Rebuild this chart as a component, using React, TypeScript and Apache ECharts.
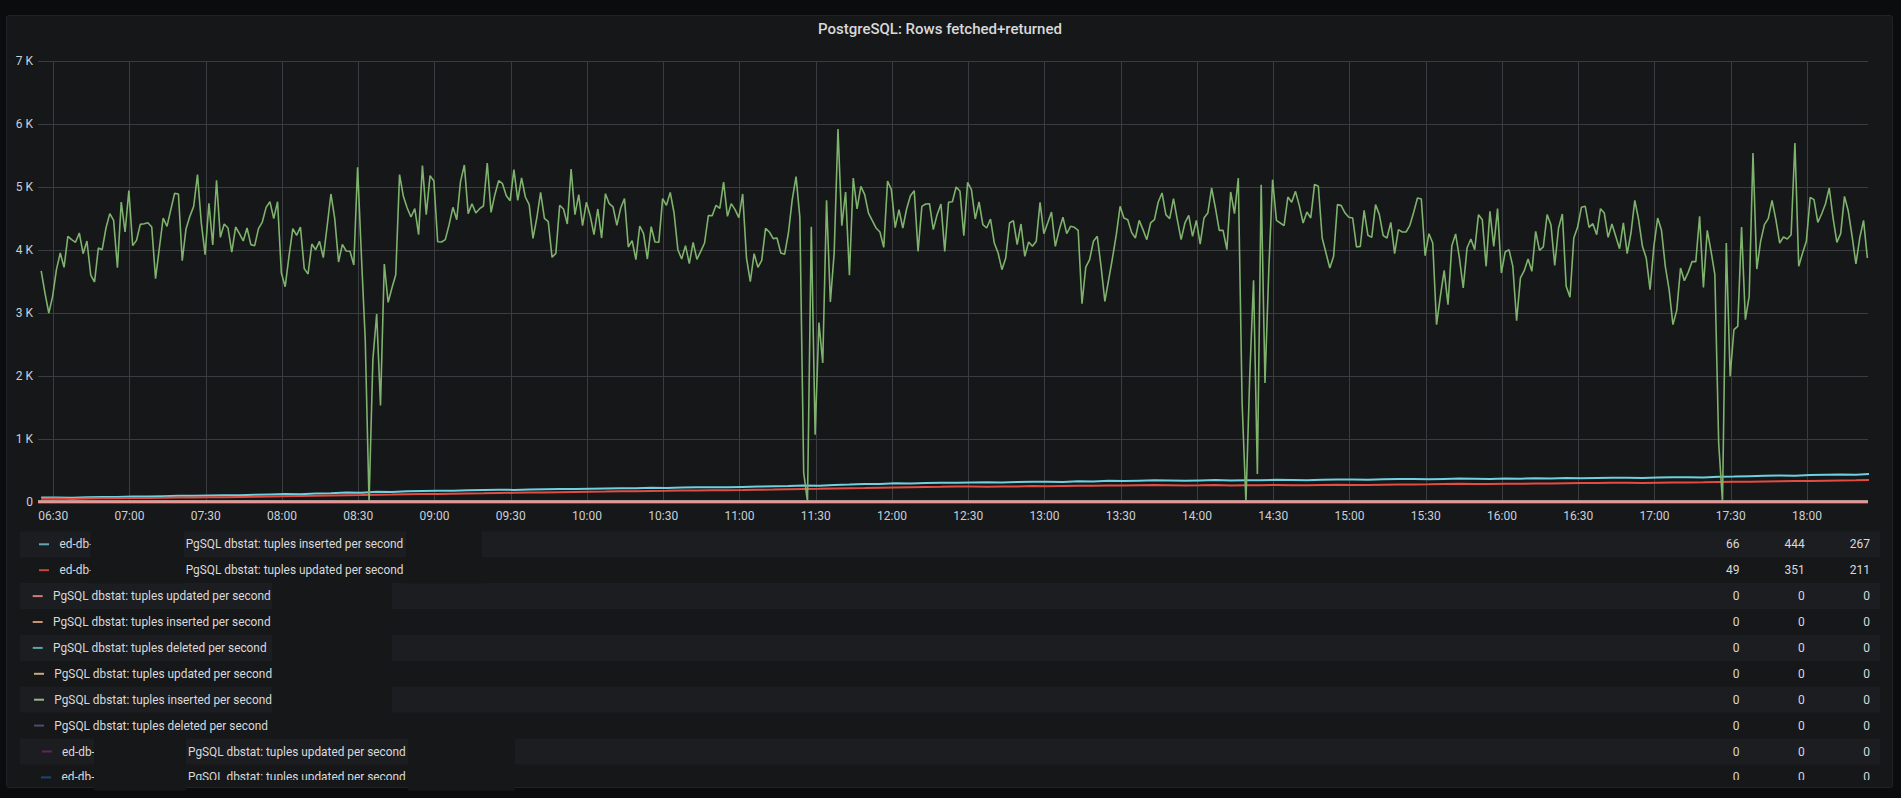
import React, { useEffect, useRef } from "react";
import * as echarts from "echarts";

// ---------- data ----------
const TITLE = "PostgreSQL: Rows fetched+returned";

// time is expressed in minutes since midnight
// main (green) series: one sample every 1.5 min starting 06:25:15
const GREEN_START = 6 * 60 + 25.25;
const GREEN_STEP = 1.5;
const greenValues = [
  3667, 3317, 3000, 3265, 3688, 3952, 3725, 4217, 4164, 4122,
  4270, 3942, 4143, 3603, 3492, 4032, 4005, 4349, 4577, 4471,
  3720, 4762, 4286, 4942, 4069, 4153, 4407, 4418, 4434, 4365,
  3545, 4032, 4508, 4376, 4640, 4899, 4889, 3831, 4339, 4534,
  4693, 5196, 4429, 3926, 4741, 4079, 5106, 4201, 4413, 4349,
  3968, 4365, 4259, 4143, 4349, 4085, 4069, 4339, 4444, 4677,
  4767, 4497, 4767, 3635, 3418, 3899, 4339, 4233, 4365, 3704,
  3619, 4095, 4005, 4138, 3878, 4376, 4889, 4497, 3810, 4090,
  3984, 3979, 3762, 5312, 3899, 2577, 0, 2259, 2984, 1534,
  3778, 3169, 3397, 3608, 5196, 4852, 4667, 4524, 4656, 4243,
  5339, 4561, 5180, 5095, 4132, 4127, 4164, 4402, 4677, 4481,
  5090, 5349, 4577, 4735, 4587, 4656, 4698, 5381, 4598, 4878,
  5100, 5053, 4862, 4783, 5275, 4788, 5143, 4841, 4720, 4185,
  4508, 4915, 4503, 4450, 3884, 3947, 4709, 4651, 4413, 5286,
  4561, 4878, 4386, 4757, 4545, 4243, 4651, 4190, 4894, 4735,
  4683, 4392, 4667, 4815, 4048, 4148, 3847, 4381, 4259, 3857,
  4370, 4127, 4122, 4815, 4709, 4915, 4587, 4005, 3857, 4069,
  3783, 4122, 3852, 3979, 4111, 4545, 4545, 4709, 4661, 5079,
  4534, 4735, 4640, 4513, 4889, 3873, 3497, 3942, 3725, 3836,
  4344, 4286, 4180, 4190, 3952, 3931, 4270, 4799, 5164, 4519,
  471, 0, 4370, 1069, 2847, 2206, 4788, 3175, 3952, 5921,
  4386, 4921, 3598, 5143, 4651, 5011, 4878, 4587, 4466, 4349,
  4286, 4042, 5095, 4958, 4354, 4640, 4349, 4651, 4862, 4942,
  3979, 4693, 4730, 4735, 4323, 4561, 4730, 3979, 4757, 4767,
  5000, 4931, 4228, 5074, 4958, 4492, 4762, 4402, 4349, 4492,
  4111, 3952, 3688, 3873, 4429, 4466, 4085, 4413, 3899, 4127,
  4058, 4138, 4757, 4259, 4429, 4603, 4058, 4312, 4519, 4259,
  4376, 4360, 4312, 3148, 3730, 3847, 4138, 4217, 3741, 3185,
  3529, 3873, 4243, 4693, 4508, 4481, 4280, 4190, 4471, 4323,
  4164, 4429, 4481, 4762, 4905, 4561, 4497, 4815, 4481, 4164,
  4429, 4550, 4217, 4471, 4095, 4508, 4587, 4984, 4667, 4312,
  4312, 4005, 4921, 4577, 5143, 1571, 0, 1995, 3519, 444,
  5037, 1889, 3688, 5116, 4471, 4429, 4386, 4841, 4757, 4931,
  4704, 4429, 4603, 4508, 5042, 5011, 4190, 3952, 3714, 3899,
  4720, 4704, 4587, 4519, 4508, 4048, 4058, 4630, 4233, 4201,
  4720, 4561, 4228, 4190, 4439, 3942, 4323, 4286, 4286, 4392,
  4600, 4825, 4810, 3910, 4259, 4111, 2815, 3265, 3677, 3132,
  4069, 4254, 3873, 3397, 4032, 4175, 4005, 4561, 4481, 3741,
  4614, 4058, 4656, 3635, 3968, 4005, 3741, 2878, 3556, 3672,
  3857, 3661, 4296, 3995, 4048, 4561, 4402, 3757, 4349, 4571,
  3423, 3249, 4190, 4365, 4677, 4693, 4360, 4418, 4243, 4656,
  4587, 4201, 4413, 4217, 4021, 4429, 3942, 4270, 4788, 4481,
  4058, 3873, 3370, 4058, 4508, 4312, 3741, 3370, 2815, 3042,
  3714, 3513, 3645, 3815, 3815, 4534, 3407, 4312, 3979, 3608,
  937, 0, 4111, 1995, 2735, 2788, 4365, 2894, 3265, 5540,
  3698, 4138, 4402, 4497, 4788, 4481, 4111, 4206, 4175, 4243,
  5698, 3741, 3952, 4138, 4836, 4799, 4439, 4571, 4730, 4984,
  4508, 4122, 4259, 4852, 4614, 4217, 3778, 4190, 4471, 3873,
];

// slow series: one sample every 6 min starting 06:25:15
const SLOW_STEP = 6;
const insertedValues = [
  70, 72, 66, 74, 80, 78, 88, 86, 92, 98,
  100, 104, 108, 106, 114, 120, 126, 124, 134, 140,
  150, 146, 162, 158, 170, 176, 180, 178, 186, 192,
  194, 192, 198, 204, 206, 208, 212, 216, 220, 218,
  226, 224, 230, 234, 236, 234, 240, 246, 250, 254,
  262, 258, 270, 276, 286, 284, 296, 292, 300, 304,
  306, 310, 312, 308, 318, 320, 322, 318, 330, 326,
  336, 332, 338, 344, 340, 336, 342, 348, 340, 344,
  346, 352, 348, 344, 352, 358, 356, 352, 360, 366,
  364, 360, 366, 372, 368, 364, 372, 370, 376, 372,
  380, 378, 382, 386, 384, 380, 388, 392, 394, 390,
  400, 404, 410, 416, 420, 418, 428, 432, 436, 434,
  444,
];
const updatedValues = [
  52, 55, 49, 56, 58, 60, 62, 64, 66, 70,
  72, 75, 76, 80, 84, 86, 90, 94, 98, 104,
  108, 110, 116, 118, 122, 126, 128, 132, 136, 138,
  142, 146, 150, 152, 156, 160, 164, 166, 170, 172,
  176, 178, 182, 184, 186, 188, 190, 194, 198, 204,
  208, 210, 214, 218, 222, 228, 232, 236, 240, 242,
  246, 248, 244, 246, 248, 252, 250, 254, 256, 258,
  262, 260, 264, 268, 266, 262, 264, 268, 262, 264,
  266, 270, 266, 264, 268, 272, 270, 268, 274, 278,
  278, 280, 284, 288, 286, 284, 288, 290, 292, 294,
  298, 300, 302, 306, 304, 302, 306, 310, 310, 312,
  316, 320, 322, 326, 330, 332, 334, 338, 342, 344,
  351,
];
const zeroValues = [0, 0];

const X_MIN = 6 * 60 + 24; // 06:24
const X_MAX = 18 * 60 + 24; // 18:24
const X_TICK = 30; // minutes
const Y_MAX = 7000;
const Y_STEP = 1000;

// legend table
const legendColors = [
  "#5fa9b3", "#c9473e", "#cf7c78", "#c8936f", "#5ba5ae",
  "#c4ac7c", "#98b58a", "#574770", "#6a2158", "#1d4673",
];
const seriesColors = [
  "#6ED0E0", "#E24D42", "#F29191", "#F9BA8F", "#6ED0E0",
  "#F4D598", "#B7DBAB", "#584477", "#6D1F62", "#0A437C",
];
const legendPrefixes = [
  "ed-db-", "ed-db-", "", "", "", "", "", "", "ed-db-", "ed-db-",
];
const legendNames = [
  "PgSQL dbstat: tuples inserted per second",
  "PgSQL dbstat: tuples updated per second",
  "PgSQL dbstat: tuples updated per second",
  "PgSQL dbstat: tuples inserted per second",
  "PgSQL dbstat: tuples deleted per second",
  "PgSQL dbstat: tuples updated per second",
  "PgSQL dbstat: tuples inserted per second",
  "PgSQL dbstat: tuples deleted per second",
  "PgSQL dbstat: tuples updated per second",
  "PgSQL dbstat: tuples updated per second",
];
const legendMin = ["66", "49", "0", "0", "0", "0", "0", "0", "0", "0"];
const legendMax = ["444", "351", "0", "0", "0", "0", "0", "0", "0", "0"];
const legendAvg = ["267", "211", "0", "0", "0", "0", "0", "0", "0", "0"];

// ---------- layout / style ----------
const FONT = "Roboto, 'Helvetica Neue', Arial, sans-serif";
const PAGE_BG = "#0b0c0e";
const PANEL_BG = "#161719";
const BAND_BG = "#1c1d21";
const GRID_COLOR = "#3a3c40";
const TEXT = "#d8d9da";
const AXIS_TEXT = "#c7d0d9";
const LEGEND_FONT = `11.85px ${FONT}`;

const ROW_Y0 = 544.3;
const ROW_H = 25.9;
// per-row x positions: marker start, prefix start, name start, redaction boxes
const rowLayout = [
  { mx: 39, px: 59.6, nx: 185.7, boxes: [[90.6, 183.7], [406, 482]] },
  { mx: 39, px: 59.6, nx: 185.7, boxes: [[90.6, 183.7], [406, 482]] },
  { mx: 32.7, px: 0, nx: 53, boxes: [[272, 392]] },
  { mx: 32.7, px: 0, nx: 53, boxes: [[272, 392]] },
  { mx: 32.7, px: 0, nx: 53, boxes: [[272, 392]] },
  { mx: 34, px: 0, nx: 54.3, boxes: [[272, 392]] },
  { mx: 34, px: 0, nx: 54.3, boxes: [[272, 392]] },
  { mx: 34, px: 0, nx: 54.3, boxes: [[272, 392]] },
  { mx: 42, px: 62, nx: 188, boxes: [[94, 186], [408, 515]] },
  { mx: 41, px: 61.6, nx: 188, boxes: [[94, 186], [408, 515]] },
];
const VALUE_RIGHT = [1739.5, 1804.7, 1870];

function pad(n: number) {
  return n < 10 ? "0" + n : "" + n;
}

function buildGraphics() {
  const els: any[] = [];
  els.push({
    type: "text",
    z: 3,
    style: {
      text: TITLE,
      x: 940,
      y: 29,
      fill: TEXT,
      font: `500 15px ${FONT}`,
      align: "center",
      verticalAlign: "middle",
    },
    silent: true,
  });
  for (let r = 0; r < legendNames.length; r++) {
    const cy = ROW_Y0 + r * ROW_H;
    const lay = rowLayout[r];
    if (r % 2 === 0) {
      els.push({
        type: "rect",
        z: 1,
        shape: { x: 20, y: cy - 13, width: 1860, height: 26 },
        style: { fill: BAND_BG },
        silent: true,
      });
    }
    els.push({
      type: "rect",
      z: 3,
      shape: { x: lay.mx, y: cy - 1, width: 10, height: 2 },
      style: { fill: legendColors[r] },
      silent: true,
    });
    if (legendPrefixes[r]) {
      els.push({
        type: "text",
        z: 3,
        style: {
          text: legendPrefixes[r],
          x: lay.px,
          y: cy,
          fill: TEXT,
          font: LEGEND_FONT,
          align: "left",
          verticalAlign: "middle",
        },
        silent: true,
      });
    }
    els.push({
      type: "text",
      z: 3,
      style: {
        text: legendNames[r],
        x: lay.nx,
        y: cy,
        fill: TEXT,
        font: LEGEND_FONT,
        align: "left",
        verticalAlign: "middle",
      },
      silent: true,
    });
    for (const b of lay.boxes) {
      els.push({
        type: "rect",
        z: 4,
        shape: { x: b[0], y: cy - 13, width: b[1] - b[0], height: 26 },
        style: { fill: PANEL_BG },
        silent: true,
      });
    }
    const vals = [legendMin[r], legendMax[r], legendAvg[r]];
    vals.forEach((v, k) => {
      els.push({
        type: "text",
        z: 3,
        style: {
          text: v,
          x: VALUE_RIGHT[k],
          y: cy,
          fill: TEXT,
          font: `12px ${FONT}`,
          align: "right",
          verticalAlign: "middle",
        },
        silent: true,
      });
    });
  }
  // legend viewport clipping at the bottom of the panel
  els.push({
    type: "rect",
    z: 10,
    shape: { x: 7, y: 780, width: 1885, height: 7 },
    style: { fill: PANEL_BG },
    silent: true,
  });
  return els;
}

export default function App() {
  const ref = useRef<HTMLDivElement>(null);
  useEffect(() => {
    document.body.style.margin = "0";
    const chart = echarts.init(ref.current!, null, { renderer: "svg" });

    const greenData = greenValues.map((v, i) => [GREEN_START + i * GREEN_STEP, v]);
    const slow = (arr: number[]) => arr.map((v, i) => [GREEN_START + i * SLOW_STEP, v]);
    const zeros = zeroValues.map((v, i) => [i === 0 ? X_MIN : X_MAX, v]);

    const zeroSeries: any[] = [];
    for (let r = legendNames.length - 1; r >= 2; r--) {
      zeroSeries.push({
        type: "line",
        name: legendNames[r] + " #" + r,
        data: zeros,
        showSymbol: false,
        symbol: "none",
        lineStyle: { color: seriesColors[r], width: 2.5 },
        z: 5,
        silent: true,
      });
    }

    chart.setOption({
      animation: false,
      backgroundColor: "transparent",
      grid: { left: 38, right: 33, top: 61, bottom: 296, containLabel: false },
      xAxis: {
        type: "value",
        min: X_MIN,
        max: X_MAX,
        splitNumber: (X_MAX - X_MIN) / X_TICK,
        minInterval: X_TICK,
        maxInterval: X_TICK,
        axisLine: { show: false },
        axisTick: { show: false },
        axisLabel: {
          color: AXIS_TEXT,
          fontSize: 12,
          fontFamily: FONT,
          margin: 8,
          showMinLabel: false,
          showMaxLabel: false,
          hideOverlap: false,
          formatter: (v: number) => pad(Math.floor(v / 60)) + ":" + pad(Math.round(v % 60)),
        },
        splitLine: {
          show: true,
          showMinLine: false,
          showMaxLine: false,
          lineStyle: { color: GRID_COLOR, width: 1 },
        },
      },
      yAxis: {
        type: "value",
        min: 0,
        max: Y_MAX,
        interval: Y_STEP,
        axisLine: { show: false },
        axisTick: { show: false },
        axisLabel: {
          color: AXIS_TEXT,
          fontSize: 12,
          fontFamily: FONT,
          margin: 5,
          formatter: (v: number) => (v === 0 ? "0" : v / 1000 + " K"),
        },
        splitLine: { show: true, lineStyle: { color: GRID_COLOR, width: 1 } },
      },
      series: [
        {
          type: "line",
          name: "Rows fetched+returned",
          data: greenData,
          showSymbol: false,
          symbol: "none",
          lineStyle: { color: "#7EB26D", width: 1.6 },
          z: 3,
          silent: true,
        },
        {
          type: "line",
          name: legendNames[0],
          data: slow(insertedValues),
          showSymbol: false,
          symbol: "none",
          lineStyle: { color: seriesColors[0], width: 2 },
          z: 2,
          silent: true,
        },
        {
          type: "line",
          name: legendNames[1],
          data: slow(updatedValues),
          showSymbol: false,
          symbol: "none",
          lineStyle: { color: seriesColors[1], width: 2 },
          z: 2,
          silent: true,
        },
        ...zeroSeries,
      ],
      graphic: buildGraphics(),
    });
    return () => chart.dispose();
  }, []);

  return (
    <div style={{ position: "absolute", left: 0, top: 0, width: 1901, height: 798, background: PAGE_BG, overflow: "hidden" }}>
      <div
        style={{
          position: "absolute",
          left: 6,
          top: 15,
          width: 1885,
          height: 771,
          background: PANEL_BG,
          border: "1px solid #202226",
          borderRadius: 3,
        }}
      />
      <div ref={ref} style={{ position: "absolute", left: 0, top: 0, width: 1901, height: 798 }} />
    </div>
  );
}
